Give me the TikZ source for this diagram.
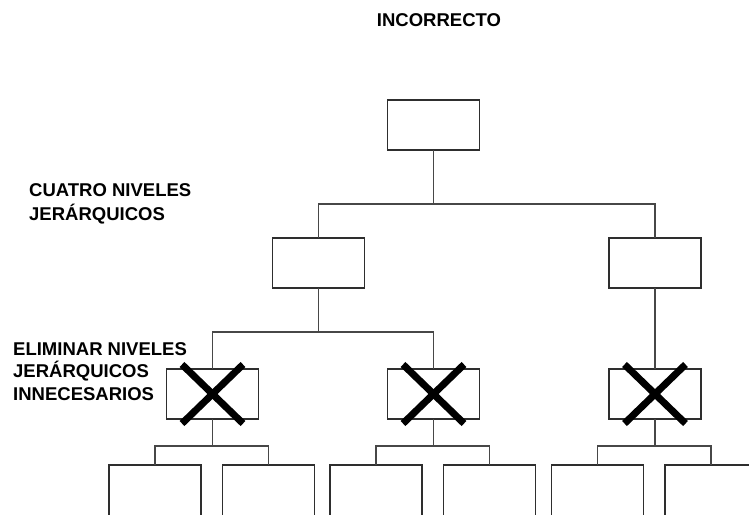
\documentclass[tikz,border=0pt]{standalone}
\usepackage{fontspec}
\setmainfont{Liberation Sans}
\begin{document}
\begin{tikzpicture}[x=1pt,y=-1pt,
  box/.style={draw=black!82, line width=1.1pt, minimum width=92pt, minimum height=50pt, inner sep=0pt, outer sep=0pt},
  tallbox/.style={box, minimum height=100pt},
  wire/.style={draw=black!72, line width=1.2pt},
  cross/.style={draw=black, line width=7pt},
  lbl/.style={font=\bfseries\fontsize{18.5}{22}\selectfont, inner sep=0pt, anchor=base west}]
\useasboundingbox (0,0) rectangle (749,514);
\clip (0,0) rectangle (749,514);

% headings
\node[lbl, anchor=base] (title) at (439,26.7) {INCORRECTO};
\node[lbl] (lvA1) at (29,196.7) {CUATRO NIVELES};
\node[lbl] (lvA2) at (29,220) {JERÁRQUICOS};
\node[lbl] (lvB1) at (13,355) {ELIMINAR NIVELES};
\node[lbl] (lvB2) at (13,377.5) {JERÁRQUICOS};
\node[lbl] (lvB3) at (13,400) {INNECESARIOS};

% bus heights
\coordinate (bus1) at (0,204);
\coordinate (bus2) at (0,332);

% boxes
\node[box] (root) at (433.5,125) {};
\node[box] (midL) at (318.5,263) {};
\node[box] (midR) at (655,263) {};
\node[box] (xL) at (212.5,394) {};
\node[box] (xM) at (433.5,394) {};
\node[box] (xR) at (655,394) {};

% upper connectors
\draw[wire] (root.south) -- (root.south |- bus1);
\draw[wire] (midL.north) |- (midR.north |- bus1) -- (midR.north);
\draw[wire] (midL.south) -- (midL.south |- bus2);
\draw[wire] (xL.north) |- (xM.north |- bus2) -- (xM.north);
\draw[wire] (midR.south) -- (xR.north);

% lowest level with its connectors
\foreach \c/\x in {xL/212.5, xM/433.5, xR/655} {
  \node[tallbox] (\c-a) at (\x-57.5,515) {};
  \node[tallbox] (\c-b) at (\x+56,515) {};
  \coordinate (\c-bus) at (\x,446);
  \draw[wire] (\c.south) -- (\c-bus);
  \draw[wire] (\c-a.north) |- (\c-b.north |- \c-bus) -- (\c-b.north);
}

% crosses over the removable level
\foreach \c in {xL, xM, xR} {
  \draw[cross] (\c.center) +(-30.5,-29.5) -- +(30.5,29.5);
  \draw[cross] (\c.center) +(-30.5,29.5) -- +(30.5,-29.5);
}
\end{tikzpicture}
\end{document}
